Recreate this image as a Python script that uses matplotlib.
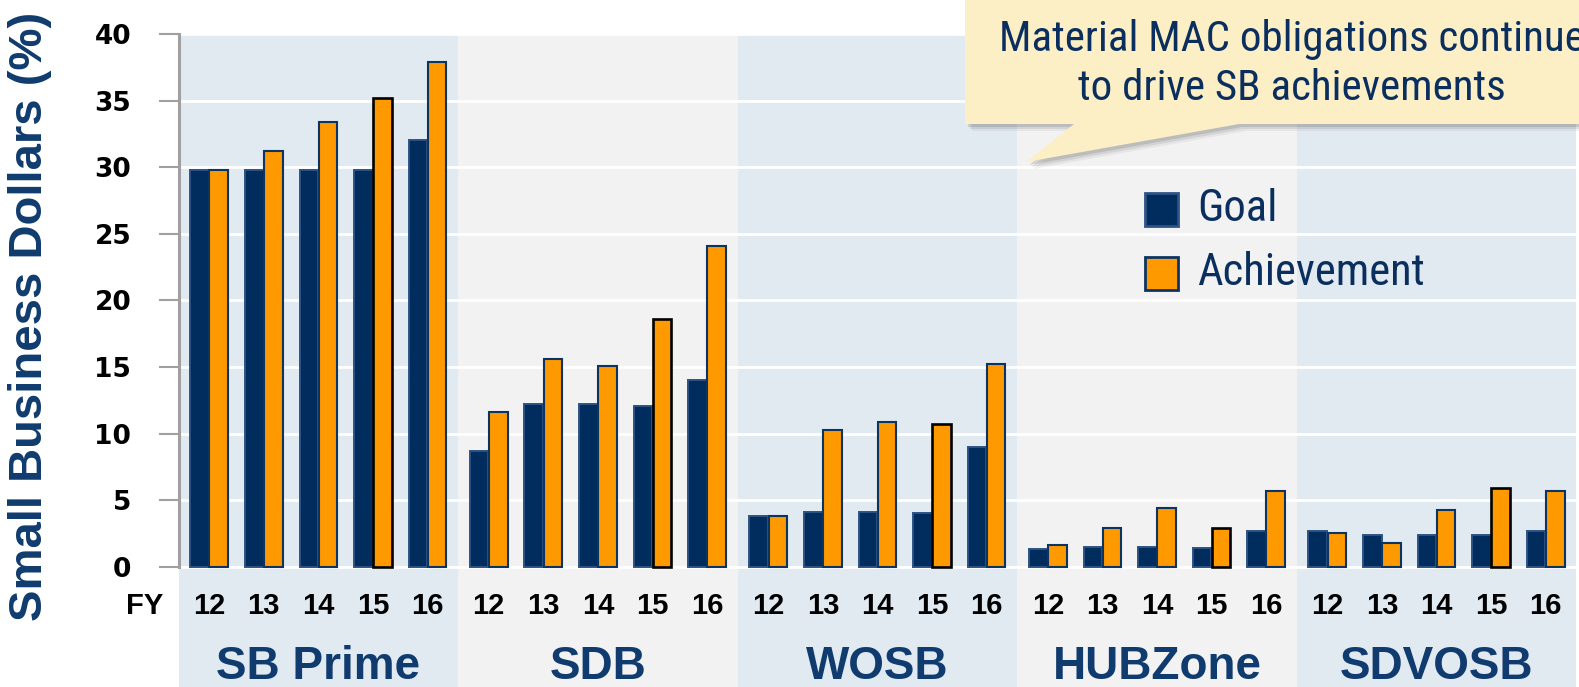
import matplotlib
matplotlib.use("Agg")
import matplotlib.pyplot as plt
from matplotlib import font_manager
from matplotlib.patches import Polygon, Rectangle

plt.rcParams['font.family'] = ['Liberation Sans', 'DejaVu Sans']

# data
groups = ['SB Prime', 'SDB', 'WOSB', 'HUBZone', 'SDVOSB']
fiscal_years = ['12', '13', '14', '15', '16']
goal_values = [
    [29.8, 29.8, 29.8, 29.8, 32.0],
    [8.7, 12.2, 12.2, 12.1, 14.0],
    [3.8, 4.1, 4.1, 4.0, 9.0],
    [1.35, 1.5, 1.5, 1.38, 2.7],
    [2.65, 2.35, 2.35, 2.4, 2.7],
]
achievement_values = [
    [29.8, 31.2, 33.4, 35.2, 37.9],
    [11.6, 15.6, 15.1, 18.6, 24.1],
    [3.8, 10.3, 10.9, 10.7, 15.2],
    [1.63, 2.93, 4.38, 2.93, 5.7],
    [2.5, 1.78, 4.26, 5.88, 5.68],
]
y_ticks = [0, 5, 10, 15, 20, 25, 30, 35, 40]

W, H = 1579, 687
NAVY = '#0f3b6e'
GOAL = '#002d5e'
ORANGE = '#ff9900'
BLUE_BG = '#e1e9f1'
GRAY_BG = '#f2f2f2'

# narrow font for the callout and legend, if one is installed
installed = {f.name for f in font_manager.fontManager.ttflist}
narrow_family, narrow_stretch, narrow_size = 'Liberation Sans', 'normal', 27
for name in ['Liberation Sans Narrow', 'Arial Narrow', 'Roboto Condensed', 'Open Sans Condensed']:
    if name in installed:
        narrow_family, narrow_size = name, 32
        break
else:
    for f in font_manager.fontManager.ttflist:
        if f.stretch in ('condensed', 'semi-condensed') and f.weight in (400, 'normal', 'regular'):
            narrow_family, narrow_stretch, narrow_size = f.name, f.stretch, 31
            break


def fpt(x, y):
    # pixel (from top-left) -> figure fraction
    return (x / W, 1 - y / H)


fig = plt.figure(figsize=(W / 100, H / 100), dpi=100)
fig.set_facecolor('white')
ax = fig.add_axes([179 / W, 0, 1 - 179 / W, 1 - 33.9 / H])
ax.set_facecolor('white')

group_step = 5.12
half = group_step / 2

# background bands behind each group
for g, name in enumerate(groups):
    center = g * group_step + 2
    ax.axvspan(center - half, center + half, color=BLUE_BG if g % 2 == 0 else GRAY_BG,
               lw=0, zorder=0.2)

# bars
for g, name in enumerate(groups):
    xs = [g * group_step + i for i in range(len(fiscal_years))]
    ax.bar([x - 0.175 for x in xs], goal_values[g], 0.34, color=GOAL,
           edgecolor='#2d5385', linewidth=1.4, zorder=2)
    edges = ['black' if fy == '15' else '#0c3463' for fy in fiscal_years]
    widths = [1.9 if fy == '15' else 1.5 for fy in fiscal_years]
    ax.bar([x + 0.175 for x in xs], achievement_values[g], 0.34, color=ORANGE,
           edgecolor=edges, linewidth=widths, zorder=3)
    for x, fy in zip(xs, fiscal_years):
        ax.text(x, -2.95, fy, ha='center', va='center', fontsize=21,
                fontweight='bold', color='black')
    ax.text(g * group_step + 2, -7.55, name, ha='center', va='center',
            fontsize=33, fontweight='bold', color=NAVY)

ax.text(-1.19, -2.95, 'FY', ha='center', va='center', fontsize=21,
        fontweight='bold', color='black')

ax.set_xlim(-0.553, 25.09)
ax.set_ylim(-9.03, 40)
ax.set_xticks([])
ax.set_yticks(y_ticks)
ax.yaxis.grid(True, color='white', linewidth=2)
ax.set_axisbelow(True)
for s in ['top', 'right', 'bottom']:
    ax.spines[s].set_visible(False)
ax.spines['left'].set_bounds(0, 40)
ax.spines['left'].set_color('#a0a0a0')
ax.spines['left'].set_linewidth(2.2)
ax.tick_params(axis='y', length=14.4, width=1.5, color='#a0a0a0', pad=20)
for lbl in ax.get_yticklabels():
    lbl.set_fontfamily('DejaVu Sans')
    lbl.set_fontweight('bold')
    lbl.set_fontsize(19)

fig.text(*fpt(30, 316), 'Small Business Dollars (%)', rotation=90, ha='center',
         va='center', fontsize=34, fontweight='bold', color=NAVY)

# legend
for (y0, face, edge), label in zip([(193, GOAL, '#2d5385'), (257, ORANGE, '#0c3463')],
                                   ['Goal', 'Achievement']):
    x0, y1 = fpt(1145, y0 + 33)
    fig.add_artist(Rectangle((x0, y1), 33 / W, 33 / H, facecolor=face, edgecolor=edge,
                             linewidth=2, transform=fig.transFigure))
    fig.text(*fpt(1197, y0 + 16), label, ha='left', va='center', fontsize=narrow_size,
             family=narrow_family, stretch=narrow_stretch, color='#0a2f5f')

# callout
callout_size = narrow_size - 1
box = [(965, -10), (1600, -10), (1600, 124), (1239, 124), (1026, 162), (1074, 124), (965, 124)]
for k, a in enumerate([0.08, 0.12, 0.18]):
    off = 7 - 2 * k
    fig.add_artist(Polygon([fpt(x + off, y + off) for x, y in box], closed=True,
                           facecolor='#555555', alpha=a, lw=0, transform=fig.transFigure))
fig.add_artist(Polygon([fpt(x, y) for x, y in box], closed=True, facecolor='#fcefc6',
                       lw=0, transform=fig.transFigure))
fig.text(*fpt(1292, 40), 'Material MAC obligations continue', ha='center', va='center',
         fontsize=callout_size, family=narrow_family, stretch=narrow_stretch, color='#0a2f5f')
fig.text(*fpt(1292, 89), 'to drive SB achievements', ha='center', va='center',
         fontsize=callout_size, family=narrow_family, stretch=narrow_stretch, color='#0a2f5f')

fig.savefig('out.png', dpi=100, facecolor='white')
